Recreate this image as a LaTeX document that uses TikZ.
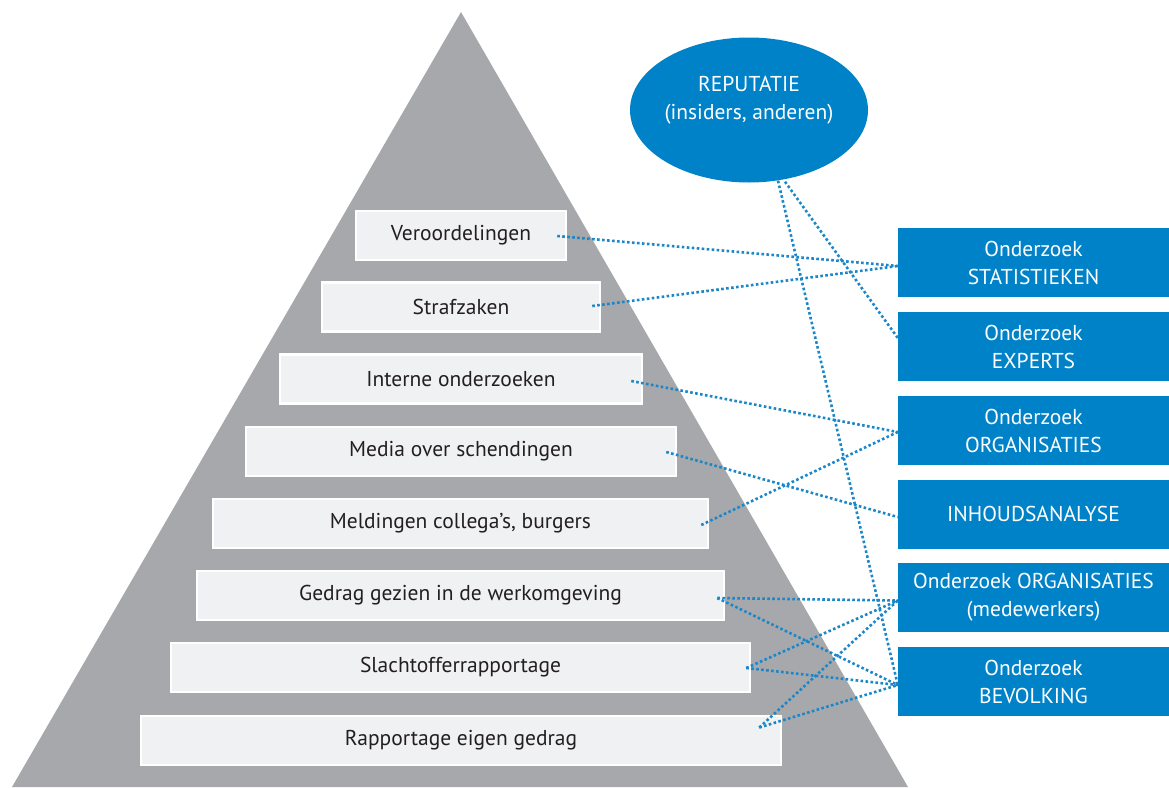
\documentclass[tikz,border=0pt]{standalone}
\usepackage{fontspec}
\setmainfont{PT Sans}
\usetikzlibrary{calc,shapes.geometric}
\definecolor{pyrgray}{HTML}{A7A8AB}
\definecolor{stepfill}{HTML}{F0F1F3}
\definecolor{ublue}{HTML}{0082C8}
\definecolor{dotblue}{HTML}{1B87C9}
\definecolor{inkblack}{HTML}{231F20}
\begin{document}
\begin{tikzpicture}[x=1pt,y=-1pt,
  level/.style={draw=white, line width=2.5pt, fill=stepfill, minimum height=49pt,
    inner sep=0pt, text=inkblack, font=\fontsize{21.5}{24}\selectfont},
  method/.style={fill=ublue, minimum width=271pt, minimum height=69pt, inner sep=0pt,
    text=white, align=center, font=\fontsize{21.5}{28}\selectfont},
  link/.style={dotblue, line width=2.6pt, dash pattern=on 2.6pt off 2.4pt}]
\useasboundingbox (0,0) rectangle (1169,787);

% pyramid
\fill[pyrgray] (461,12) -- (908,787) -- (12,787) -- cycle;

% levels of the pyramid
\node[level, minimum width=210pt] (l1) at (461,235.5) {Veroordelingen};
\node[level, minimum width=278pt] (l2) at (461,307)   {Strafzaken};
\node[level, minimum width=362pt] (l3) at (461,379)   {Interne onderzoeken};
\node[level, minimum width=430pt] (l4) at (461,451.5) {Media over schendingen};
\node[level, minimum width=495pt] (l5) at (460.5,523.5) {Meldingen collega’s, burgers};
\node[level, minimum width=527pt] (l6) at (460.5,595.5) {Gedrag gezien in de werkomgeving};
\node[level, minimum width=579pt] (l7) at (460.5,667.5) {Slachtofferrapportage};
\node[level, minimum width=640pt] (l8) at (461,740.5) {Rapportage eigen gedrag};

% reputation ellipse
\node[ellipse, fill=ublue, minimum width=238pt, minimum height=145pt, inner sep=0pt] (rep) at (749,110) {};
\node[text=white, align=center, font=\fontsize{21.5}{28}\selectfont] (reptext) at ($(rep.center)+(0,-10)$) {REPUTATIE\\(insiders, anderen)};

% research methods
\node[method] (m1) at (1033.5,262.5) {Onderzoek\\STATISTIEKEN};
\node[method] (m2) at (1033.5,346.5) {Onderzoek\\EXPERTS};
\node[method] (m3) at (1033.5,430.5) {Onderzoek\\ORGANISATIES};
\node[method] (m4) at (1033.5,514)   {INHOUDSANALYSE};
\node[method] (m5) at (1033.5,597.5) {Onderzoek ORGANISATIES\\(medewerkers)};
\node[method] (m6) at (1033.5,681.5) {Onderzoek\\BEVOLKING};

% connector end points
\coordinate (r1) at ($(rep.south)+(29,-2)$);
\coordinate (r2) at ($(rep.south)+(36,-1)$);
\coordinate (a1) at ($(l1.east)+(-10,0.5)$);
\coordinate (a2) at ($(l2.east)+(-9,-1)$);
\coordinate (a3) at ($(l3.east)+(-12,2)$);
\coordinate (a4) at ($(l4.east)+(-11,0.5)$);
\coordinate (a5) at ($(l5.east)+(-8,1.5)$);
\coordinate (a6) at ($(l6.east)+(-8,2.5)$);
\coordinate (a7) at ($(l7.east)+(-5,0.5)$);
\coordinate (a8) at ($(l8.east)+(-23,-13)$);
\coordinate (b1) at ($(m1.west)+(0,3.5)$);
\coordinate (b2) at ($(m2.west)+(0,-8.5)$);
\coordinate (b3) at ($(m3.west)+(0,1.5)$);
\coordinate (b4) at ($(m4.west)+(0,3)$);
\coordinate (b5) at ($(m5.west)+(0,3)$);
\coordinate (b6) at ($(m6.west)+(0,3.5)$);

% dotted links
\draw[link] (a1) -- (b1);
\draw[link] (a2) -- (b1);
\draw[link] (r1) -- (b6);
\draw[link] (r2) -- (b2);
\draw[link] (a3) -- (b3);
\draw[link] (a5) -- (b3);
\draw[link] (a4) -- (b4);
\draw[link] (a6) -- (b5);
\draw[link] (a6) -- (b6);
\draw[link] (a7) -- (b5);
\draw[link] (a7) -- (b6);
\draw[link] (a8) -- (b5);
\draw[link] (a8) -- (b6);
\end{tikzpicture}
\end{document}
